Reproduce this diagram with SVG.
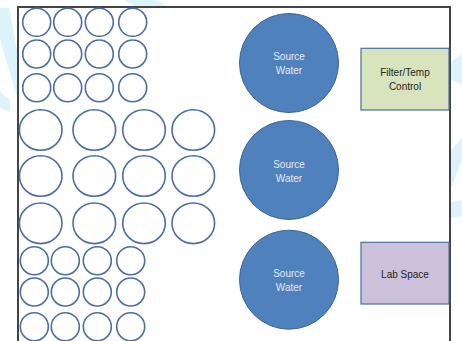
<svg xmlns="http://www.w3.org/2000/svg" width="462" height="341" viewBox="0 0 462 341">
<style>
.wm{fill:#dcf3fc;stroke:none}
.tank{fill:none;stroke:#4a6ea3;stroke-width:1.6}
.src{fill:#4f81bd;stroke:#3b669a;stroke-width:1}
.srct{font-family:"Liberation Sans",Arial,sans-serif;font-size:10px;fill:#e3eaf5;text-anchor:middle}
.boxt{font-family:"Liberation Sans",Arial,sans-serif;font-size:10px;fill:#222;text-anchor:middle}
</style>
<rect width="462" height="341" fill="#ffffff"/>
<g id="watermark">
<polygon class="wm" points="0,8 9,8 18,55 18,100 0,40"/>
<polygon class="wm" points="0,92 10,100 10,112 0,108"/>
<polygon class="wm" points="124,0 156,0 168,7 136,7"/>
<polygon class="wm" points="451,62 462,54 462,84 451,80"/>
<polygon class="wm" points="462,138 462,160 451,188 451,150"/>
<polygon class="wm" points="451,202 462,200 462,216 451,218"/>
</g>
<rect id="room" x="18" y="7" width="432" height="345" fill="#ffffff" stroke="#444444" stroke-width="2"/>
<g id="tanks-small-top">
<circle class="tank" cx="36.7" cy="22.3" r="14"/>
<circle class="tank" cx="67.7" cy="22.3" r="14"/>
<circle class="tank" cx="99.3" cy="22.3" r="14"/>
<circle class="tank" cx="132.7" cy="22.3" r="14"/>
<circle class="tank" cx="36.7" cy="54" r="14"/>
<circle class="tank" cx="67.7" cy="54" r="14"/>
<circle class="tank" cx="99.3" cy="54" r="14"/>
<circle class="tank" cx="132.7" cy="54" r="14"/>
<circle class="tank" cx="36.7" cy="87.7" r="14"/>
<circle class="tank" cx="67.7" cy="87.7" r="14"/>
<circle class="tank" cx="99.3" cy="87.7" r="14"/>
<circle class="tank" cx="132.7" cy="87.7" r="14"/>
</g>
<g id="tanks-large">
<ellipse class="tank" cx="40.7" cy="130" rx="21.3" ry="20.3"/>
<ellipse class="tank" cx="94.3" cy="130" rx="21.3" ry="20.3"/>
<ellipse class="tank" cx="144" cy="130" rx="21.3" ry="20.3"/>
<ellipse class="tank" cx="193.3" cy="130" rx="21.3" ry="20.3"/>
<ellipse class="tank" cx="40.7" cy="176" rx="21.3" ry="20.3"/>
<ellipse class="tank" cx="94.3" cy="176" rx="21.3" ry="20.3"/>
<ellipse class="tank" cx="144" cy="176" rx="21.3" ry="20.3"/>
<ellipse class="tank" cx="193.3" cy="176" rx="21.3" ry="20.3"/>
<ellipse class="tank" cx="40.7" cy="223.3" rx="21.3" ry="20.3"/>
<ellipse class="tank" cx="94.3" cy="223.3" rx="21.3" ry="20.3"/>
<ellipse class="tank" cx="144" cy="223.3" rx="21.3" ry="20.3"/>
<ellipse class="tank" cx="193.3" cy="223.3" rx="21.3" ry="20.3"/>
</g>
<g id="tanks-small-bottom">
<circle class="tank" cx="34.3" cy="260.7" r="14"/>
<circle class="tank" cx="65.3" cy="260.7" r="14"/>
<circle class="tank" cx="97.3" cy="260.7" r="14"/>
<circle class="tank" cx="130.7" cy="260.7" r="14"/>
<circle class="tank" cx="34.3" cy="292" r="14"/>
<circle class="tank" cx="65.3" cy="292" r="14"/>
<circle class="tank" cx="97.3" cy="292" r="14"/>
<circle class="tank" cx="130.7" cy="292" r="14"/>
<circle class="tank" cx="34.3" cy="326.7" r="14"/>
<circle class="tank" cx="65.3" cy="326.7" r="14"/>
<circle class="tank" cx="97.3" cy="326.7" r="14"/>
<circle class="tank" cx="130.7" cy="326.7" r="14"/>
</g>
<g id="source1">
<circle class="src" cx="289" cy="63" r="49.5"/>
<text class="srct" x="289" y="60.3">Source</text>
<text class="srct" x="289" y="74">Water</text>
</g>
<g id="source2">
<circle class="src" cx="289" cy="170" r="49.5"/>
<text class="srct" x="289" y="167.8">Source</text>
<text class="srct" x="289" y="181.5">Water</text>
</g>
<g id="source3">
<circle class="src" cx="289" cy="279.7" r="49.5"/>
<text class="srct" x="289" y="277.3">Source</text>
<text class="srct" x="289" y="291">Water</text>
</g>
<g id="filter">
<rect x="361" y="48.3" width="88" height="61.7" fill="#d7e4bd" stroke="#4a6ea3" stroke-width="1.2"/>
<text class="boxt" x="405" y="76.3">Filter/Temp</text>
<text class="boxt" x="405" y="90">Control</text>
</g>
<g id="lab">
<rect x="361" y="242.3" width="88" height="61.7" fill="#ccc1da" stroke="#4a6ea3" stroke-width="1.2"/>
<text class="boxt" x="405" y="277.5">Lab Space</text>
</g>
<g id="connectors"/>
</svg>
